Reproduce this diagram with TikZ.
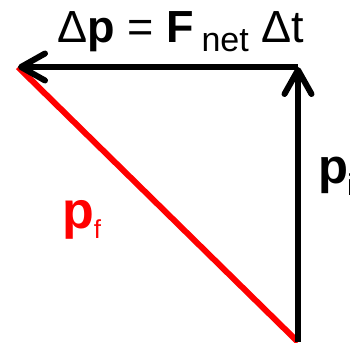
\documentclass[tikz,border=0pt]{standalone}
\usepackage{fontspec}
\setmainfont{Liberation Sans}
\usetikzlibrary{arrows.meta}
\newcommand\lowsub[3]{\raisebox{-#2pt}{\fontsize{#1}{#1}\selectfont #3}}

\begin{document}
\begin{tikzpicture}[x=1pt,y=-1pt,
    vec/.style={line width=6pt,-{Straight Barb[round,length=24pt,width=27pt]}},
    lbl/.style={inner sep=0pt,anchor=base west}]
    \useasboundingbox(0,0)rectangle(350,342);
    \coordinate(o)at(298,342);
    \coordinate(c)at(298,67);
    \coordinate(t)at(18,67);
    \draw[red,line width=6pt](o)--(t);
    \draw[vec](o)--(c);
    \draw[vec](c)--(t);
    \node[lbl,font=\fontsize{45}{45}\selectfont](dp)at(57,43){Δ\textbf{p} = \textbf{F}\kern8pt\lowsub{34}{9}{net} Δt};
    \node[lbl,font=\fontsize{49}{49}\selectfont](pi)at(318,183){\textbf{p}\kern-1pt\lowsub{30}{12}{i}};
    \node[lbl,red,font=\fontsize{52}{52}\selectfont](pf)at(62,228){\textbf{p}\lowsub{26}{10}{f}};
\end{tikzpicture}
\end{document}
